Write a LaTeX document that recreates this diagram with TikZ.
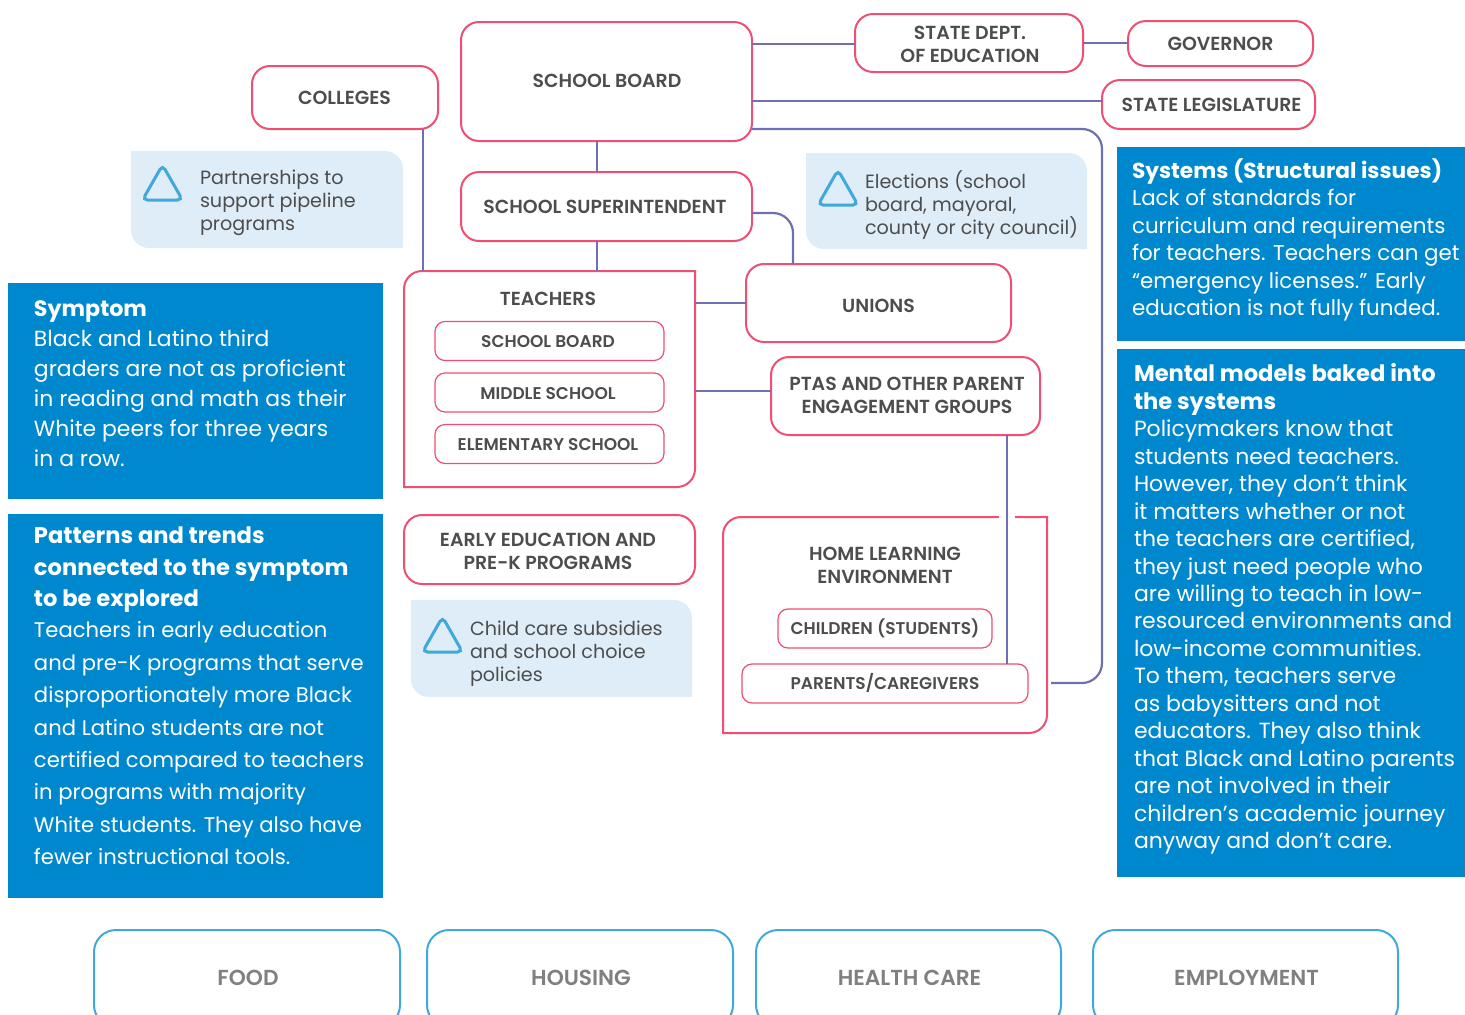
\documentclass[tikz,border=0pt]{standalone}
\usepackage{fontspec}
\setmainfont{Poppins}[BoldFont={Poppins SemiBold}]
\newfontfamily\blockfont{Poppins}[UprightFont={Poppins Bold}]
\usetikzlibrary{calc,positioning}
\definecolor{pinkline}{HTML}{EE4F73}
\definecolor{linkline}{HTML}{6F70B4}
\definecolor{blockblue}{HTML}{0088CF}
\definecolor{paleblue}{HTML}{DEEDF8}
\definecolor{iconblue}{HTML}{3FA9DC}
\definecolor{labelgray}{HTML}{4D4D4D}
\definecolor{softgray}{HTML}{808080}
\newcommand{\notetriangle}[1]{\draw[iconblue, line width=3, rounded corners=5, fill=paleblue] ($(#1)+(0,-19)$) -- ($(#1)+(20,16)$) -- ($(#1)+(-20,16)$) -- cycle;}
\newcommand{\blockhead}[2][22.2]{{\fontsize{#1}{27}\blockfont #2}}
\begin{document}
\begin{tikzpicture}[x=1pt,y=-1pt]
	\tikzstyle{pinkbox}=[draw=pinkline, line width=2, fill=white, rounded corners=18, outer sep=0, inner sep=0]
	\tikzstyle{smallbox}=[pinkbox, line width=1.2, rounded corners=10]
	\tikzstyle{boxtext}=[outer sep=0, inner sep=0, align=center, text=labelgray, font=\fontsize{18.9}{23}\selectfont\bfseries]
	\tikzstyle{smalltext}=[boxtext, font=\fontsize{17}{20}\selectfont\bfseries]
	\tikzstyle{lifebox}=[pinkbox, draw=iconblue, rounded corners=22]
	\tikzstyle{lifetext}=[boxtext, text=softgray, font=\fontsize{21.7}{26}\selectfont\bfseries]
	\tikzstyle{link}=[linkline, line width=2.2]
	\tikzstyle{bluebox}=[fill=blockblue, outer sep=0, inner sep=0]
	\tikzstyle{bluetext}=[anchor=west, outer sep=0, inner sep=0, align=left, text=white]
	\tikzstyle{paletext}=[anchor=west, outer sep=0, inner sep=0, align=left, text=labelgray, font=\fontsize{19.15}{23.2}\selectfont]
	\tikzstyle{palebox}=[outer sep=0, inner sep=0]
	\useasboundingbox (0,0) rectangle (1465,1015);

	\node[pinkbox, minimum width=291, minimum height=119] (board) at (606.5,81.5) {};
	\node[boxtext] (boardtext) at (607,80.5) {SCHOOL BOARD};
	\node[pinkbox, minimum width=186, minimum height=63] (colleges) at (345,97.5) {};
	\node[boxtext] (collegestext) at (344.5,97.5) {COLLEGES};
	\node[pinkbox, minimum width=228, minimum height=58] (dept) at (969,43) {};
	\node[boxtext] (depttext) at (970,44.5) {STATE DEPT.\\OF EDUCATION};
	\node[pinkbox, minimum width=185, minimum height=45] (governor) at (1220.5,43.5) {};
	\node[boxtext] (governortext) at (1220.5,44) {GOVERNOR};
	\node[pinkbox, minimum width=213, minimum height=49] (legislature) at (1208.5,104.5) {};
	\node[boxtext] (legislaturetext) at (1211.5,105) {STATE LEGISLATURE};
	\node[pinkbox, minimum width=291, minimum height=69] (superintendent) at (606.5,206.5) {};
	\node[boxtext] (superintendenttext) at (605,207) {SCHOOL SUPERINTENDENT};
	\node[pinkbox, minimum width=265, minimum height=78] (unions) at (878.5,303) {};
	\node[boxtext] (unionstext) at (878.5,305.5) {UNIONS};
	\node[pinkbox, minimum width=269, minimum height=78] (ptas) at (905.5,396) {};
	\node[boxtext] (ptastext) at (907,395) {PTAS AND OTHER PARENT\\ENGAGEMENT GROUPS};
	\node[pinkbox, minimum width=291, minimum height=69] (early) at (549.5,549.5) {};
	\node[boxtext] (earlytext) at (548,551) {EARLY EDUCATION AND\\PRE-K PROGRAMS};

	% teachers block
	\node[palebox, minimum width=291, minimum height=216] (teachers) at (549.5,379) {};
	\draw[pinkline, line width=2] (teachers.south west) -- ($(teachers.north west)+(0,18)$) arc[start angle=180, end angle=270, radius=18] -- (teachers.north east) -- ($(teachers.south east)+(0,-18)$) arc[start angle=0, end angle=90, radius=18] -- cycle;
	\node[boxtext] (teacherstext) at (548,298.5) {TEACHERS};
	\node[smallbox, minimum width=229, minimum height=39] (teachboard) at (549.5,341) {};
	\node[smalltext] (teachboardtext) at (548,341.5) {SCHOOL BOARD};
	\node[smallbox, minimum width=229, minimum height=39] (middle) at (549.5,392.5) {};
	\node[smalltext] (middletext) at (548,393.5) {MIDDLE SCHOOL};
	\node[smallbox, minimum width=229, minimum height=39] (elementary) at (549.5,444) {};
	\node[smalltext] (elementarytext) at (548,444.5) {ELEMENTARY SCHOOL};

	% home block
	\node[palebox, minimum width=324, minimum height=216] (home) at (885,625) {};
	\draw[pinkline, line width=2] ($(home.north east)+(-32,0)$) -- (home.north east) -- ($(home.south east)+(0,-18)$) arc[start angle=0, end angle=90, radius=18] -- (home.south west) -- ($(home.north west)+(0,18)$) arc[start angle=180, end angle=270, radius=18] -- ($(home.north east)+(-48,0)$);
	\node[boxtext] (hometext) at (885,565) {HOME LEARNING\\ENVIRONMENT};
	\node[smallbox, minimum width=214, minimum height=39] (children) at (885,628.5) {};
	\node[smalltext] (childrentext) at (885,628.5) {CHILDREN (STUDENTS)};
	\node[smallbox, minimum width=286, minimum height=39] (parents) at (885,683.5) {};
	\node[smalltext] (parentstext) at (885,683) {PARENTS/CAREGIVERS};

	% notes
	\node[palebox, minimum width=272, minimum height=97] (partnerships) at (267,199.5) {};
	\node[palebox, minimum width=281, minimum height=96] (elections) at (946.5,201) {};
	\node[palebox, minimum width=281, minimum height=97] (subsidies) at (551.5,648.5) {};
	\foreach \notebox in {partnerships,elections,subsidies}
		\fill[paleblue] (\notebox.south west) ++(18,0) arc[start angle=90, end angle=180, radius=18] -- (\notebox.north west) -- ($(\notebox.north east)+(-18,0)$) arc[start angle=270, end angle=360, radius=18] -- (\notebox.south east) -- cycle;
	\notetriangle{162.5,184}
	\notetriangle{838,189}
	\notetriangle{442.5,636}
	\node[paletext] (partnershipstext) at (200,203) {Partnerships to\\support pipeline\\programs};
	\node[paletext] (electionstext) at (865,205) {Elections (school\\board, mayoral,\\county or city council)};
	\node[paletext] (subsidiestext) at (470,653.5) {Child care subsidies\\and school choice\\policies};

	% blue blocks
	\node[bluebox, minimum width=375, minimum height=216] (symptom) at (195.5,391) {};
	\node[bluebox, minimum width=375, minimum height=384] (patterns) at (195.5,706) {};
	\node[bluebox, minimum width=348, minimum height=194] (systems) at (1291,244) {};
	\node[bluebox, minimum width=348, minimum height=528] (mental) at (1291,613) {};
	\node[bluetext, font=\fontsize{21.9}{30}\selectfont] (symptomtext) at ([xshift=26,yshift=7]symptom.west) {\blockhead{Symptom}\\Black and Latino third\\graders are not as proficient\\in reading and math as their\\White peers for three years\\in a row.};
	\node[bluetext, font=\fontsize{21.15}{32.4}\selectfont] (patternstext) at ([xshift=26,yshift=10]patterns.west) {\blockhead[22.6]{Patterns and trends}\\[-1.1pt]\blockhead[22.6]{connected to the symptom}\\[-1.1pt]\blockhead[22.6]{to be explored}\\[-1.1pt]Teachers in early education\\and pre-K programs that serve\\disproportionately more Black\\and Latino students are not\\certified compared to teachers\\in programs with majority\\White students. They also have\\fewer instructional tools.};
	\node[bluetext, font=\fontsize{21.4}{27.5}\selectfont] (systemstext) at ([xshift=15,yshift=4]systems.west) {\blockhead[21.7]{Systems (Structural issues)}\\Lack of standards for\\curriculum and requirements\\for teachers. Teachers can get\\“emergency licenses.” Early\\education is not fully funded.};
	\node[bluetext, font=\fontsize{21.95}{27.47}\selectfont] (mentaltext) at ([xshift=17,yshift=4]mental.west) {\blockhead[22.6]{Mental models baked into}\\\blockhead[22.6]{the systems}\\Policymakers know that\\students need teachers.\\However, they don’t think\\it matters whether or not\\the teachers are certified,\\they just need people who\\are willing to teach in low-\\resourced environments and\\low-income communities.\\To them, teachers serve\\as babysitters and not\\educators. They also think\\that Black and Latino parents\\are not involved in their\\children’s academic journey\\anyway and don’t care.};

	% bottom row
	\node[lifebox, minimum width=306, minimum height=97] (food) at (247,978.5) {};
	\node[lifebox, minimum width=306, minimum height=97] (housing) at (580,978.5) {};
	\node[lifebox, minimum width=305, minimum height=97] (health) at (908.5,978.5) {};
	\node[lifebox, minimum width=305, minimum height=97] (employment) at (1245.5,978.5) {};
	\node[lifetext] (foodtext) at (248,977.5) {FOOD};
	\node[lifetext] (housingtext) at (581,977.5) {HOUSING};
	\node[lifetext] (healthtext) at (909.5,977.5) {HEALTH CARE};
	\node[lifetext] (employmenttext) at (1246.5,977.5) {EMPLOYMENT};

	% connectors
	\coordinate (parentsend) at (1051,683);
	\draw[link] (board.east |- 0,44) -- (dept.west |- 0,44);
	\draw[link] (dept.east |- 0,43) -- (governor.west |- 0,43);
	\draw[link] (board.east |- 0,101) -- (legislature.west |- 0,101);
	\draw[link, rounded corners=20] ([yshift=12]board.south east) -- (legislature.west |- 0,129) -- (legislature.west |- parentsend) -- (parentsend);
	\draw[link] (board.south -| 597,0) -- (superintendent.north -| 597,0);
	\draw[link] (superintendent.south -| 597,0) -- (teachers.north -| 597,0);
	\draw[link] (colleges.south -| 423,0) -- (teachers.north -| 423,0);
	\draw[link, rounded corners=20] (superintendent.east |- 0,213) -- (793,213) -- (unions.north -| 793,0);
	\draw[link] (teachers.east |- 0,303) -- (unions.west |- 0,303);
	\draw[link] (teachers.east |- 0,391) -- (ptas.west |- 0,391);
	\draw[link] (ptas.south -| 1007,0) -- (parents.north -| 1007,0);
\end{tikzpicture}
\end{document}
